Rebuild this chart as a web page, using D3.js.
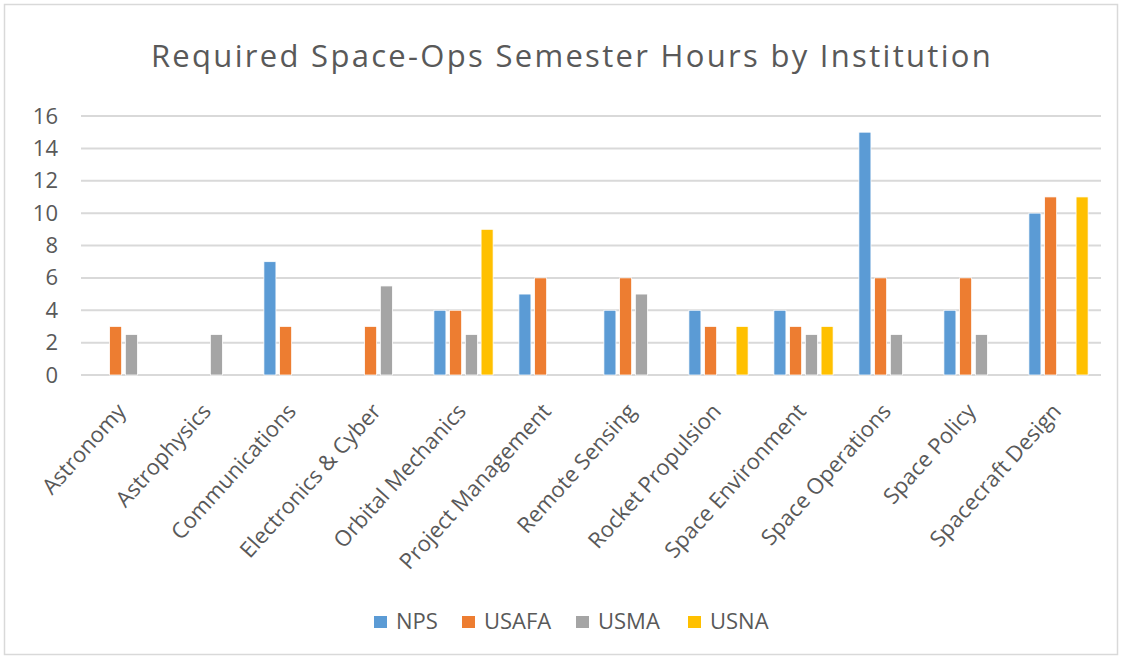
<!DOCTYPE html>
<html>
<head>
<meta charset="utf-8">
<script src="https://cdn.jsdelivr.net/npm/d3@7"></script>
<style>
  body { margin: 0; background: #fff; }
  svg text { font-family: "Open Sans", "Noto Sans", sans-serif; fill: #595959; }
</style>
</head>
<body>
<div class="chart"></div>
<script>
const categories = ["Astronomy", "Astrophysics", "Communications", "Electronics & Cyber",
    "Orbital Mechanics", "Project Management", "Remote Sensing", "Rocket Propulsion",
    "Space Environment", "Space Operations", "Space Policy", "Spacecraft Design"];
const series = ["NPS", "USAFA", "USMA", "USNA"];
const nps   = [0, 0, 7, 0, 4, 5, 4, 4, 4, 15, 4, 10];
const usafa = [3, 0, 3, 3, 4, 6, 6, 3, 3, 6, 6, 11];
const usma  = [2.5, 2.5, 0, 5.5, 2.5, 0, 5, 0, 2.5, 2.5, 2.5, 0];
const usna  = [0, 0, 0, 0, 9, 0, 0, 3, 3, 0, 0, 11];
const yTicks = [0, 2, 4, 6, 8, 10, 12, 14, 16];
const colors = ["#5B9BD5", "#ED7D31", "#A5A5A5", "#FFC000"];

function main(){
    const width = 1125, height = 660;
    const margin = ({top: 116, right: 24, bottom: 285, left: 81});

    const svg = d3.select('.chart')
        .append('svg')
        .attr("width", width)
        .attr("height", height);

    // outer frame
    svg.append("rect")
        .attr("x", 4.5).attr("y", 4.5)
        .attr("width", 1113).attr("height", 650)
        .attr("fill", "#fff")
        .attr("stroke", "#D9D9D9")
        .attr("stroke-width", 1.5);

    svg.append("text")
        .attr("x", 572)
        .attr("y", 67)
        .attr("text-anchor", "middle")
        .style("font-size", "31px")
        .style("letter-spacing", "2.3px")
        .text("Required Space-Ops Semester Hours by Institution");

    const xScale = d3.scaleBand()
        .domain(categories)
        .range([margin.left, width - margin.right]);

    const x1 = d3.scaleBand()
        .domain(series)
        .range([12.9, 72.1])
        .paddingInner(0.236);

    const yScale = d3.scaleLinear()
        .domain([0, 16])
        .range([375, margin.top]);

    // gridlines
    svg.append("g")
        .selectAll("line")
        .data(yTicks)
        .enter()
        .append("line")
        .attr("x1", margin.left)
        .attr("x2", width - margin.right)
        .attr("y1", d => yScale(d))
        .attr("y2", d => yScale(d))
        .attr("stroke", "#D9D9D9")
        .attr("stroke-width", 2);

    const yAxis = d3.axisLeft(yScale)
        .tickValues(yTicks)
        .tickSize(0)
        .tickPadding(23);

    const yg = svg.append("g")
        .attr("transform", `translate(${margin.left}, 0)`)
        .call(yAxis);
    yg.select(".domain").remove();
    yg.selectAll("text")
        .style("font-size", "22px")
        .attr("fill", "#595959");

    const rows = [nps, usafa, usma, usna];
    const table = [];
    categories.forEach((c, i) => {
        series.forEach((s, j) => {
            table.push({cat: c, ser: s, idx: j, value: rows[j][i]});
        });
    });

    svg.append("g")
        .selectAll("rect")
        .data(table.filter(d => d.value > 0))
        .enter()
        .append("rect")
        .attr("x", d => xScale(d.cat) + x1(d.ser))
        .attr("y", d => yScale(d.value))
        .attr("width", x1.bandwidth())
        .attr("height", d => yScale(0) - yScale(d.value))
        .attr("fill", d => colors[d.idx])
        .attr("stroke", "#fff")
        .attr("stroke-width", 0.75);

    // category labels
    svg.append("g")
        .selectAll("text")
        .data(categories)
        .enter()
        .append("text")
        .attr("transform", d => `translate(${xScale(d) + xScale.bandwidth() / 2 - 2}, 407) rotate(-48)`)
        .attr("text-anchor", "end")
        .attr("dy", "0.35em")
        .style("font-size", "22px")
        .text(d => d);

    // legend
    const legendX = [374, 462, 576, 688];
    const lg = svg.append("g");
    lg.selectAll("rect")
        .data(series)
        .enter()
        .append("rect")
        .attr("x", (d, i) => legendX[i])
        .attr("y", 616)
        .attr("width", 13)
        .attr("height", 12)
        .attr("fill", (d, i) => colors[i]);
    lg.selectAll("text")
        .data(series)
        .enter()
        .append("text")
        .attr("x", (d, i) => legendX[i] + 22)
        .attr("y", 621)
        .attr("dy", "0.35em")
        .style("font-size", "22px")
        .text(d => d);
}

main();
</script>
</body>
</html>
